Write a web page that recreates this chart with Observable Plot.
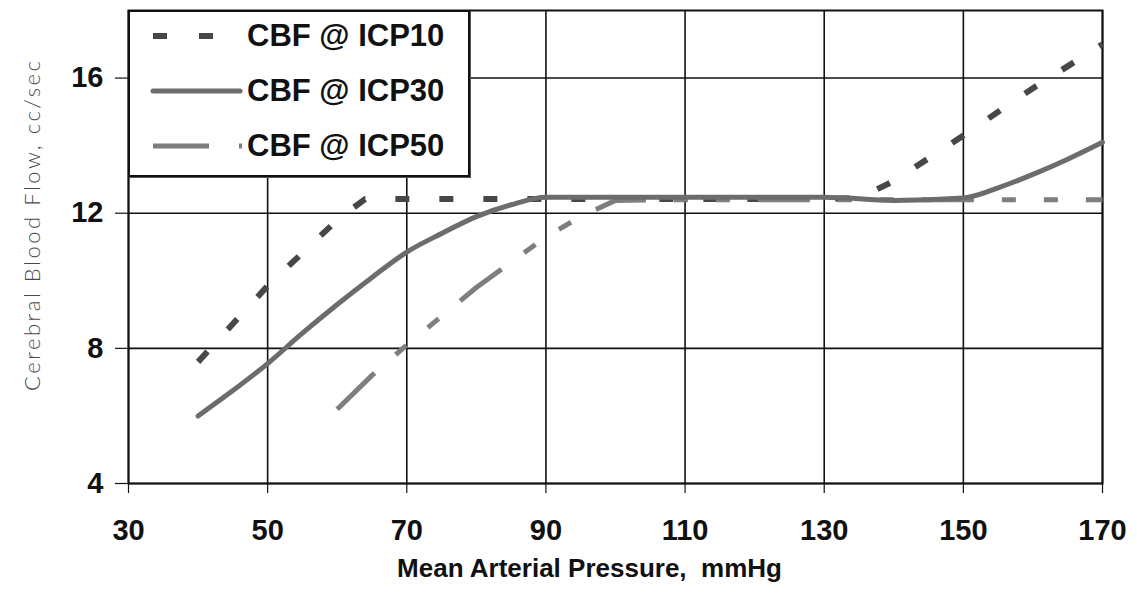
<!DOCTYPE html>
<html>
<head>
<meta charset="utf-8">
<script src="https://cdn.jsdelivr.net/npm/d3@7"></script>
<script src="https://cdn.jsdelivr.net/npm/@observablehq/plot@0.6"></script>
<style>
  html, body { margin: 0; padding: 0; background: #fff; }
  #wrap { position: relative; width: 1137px; height: 603px; }
  #legend {
    position: absolute; left: 128px; top: 10px; width: 338px; height: 163px;
    background: #fff; border: 2px solid #111; box-shadow: 1px 1px 0 #555;
    font-family: "Liberation Sans", Arial, sans-serif; font-weight: bold; font-size: 31px; color: #111;
  }
  .row { position: absolute; left: 0; height: 40px; width: 100%; }
  .row svg { position: absolute; left: 0; top: 0; }
  .row span { position: absolute; left: 117px; top: 2px; line-height: 36px; }
</style>
</head>
<body>
<div id="wrap">
  <div id="chart"></div>
  <div id="legend"></div>
</div>
<script>
// ---- data ----
const seriesNames = ["CBF @ ICP10", "CBF @ ICP30", "CBF @ ICP50"];
const icp10X = [40, 50, 60, 64, 90, 110, 130, 135, 140, 150, 160, 170];
const icp10Y = [7.6, 9.85, 11.8, 12.42, 12.42, 12.42, 12.42, 12.45, 12.95, 14.3, 15.7, 17.0];
const icp30X = [40, 45, 50, 55, 60, 65, 70, 75, 80, 85, 90, 110, 130, 140, 150, 155, 160, 165, 170];
const icp30Y = [6.0, 6.75, 7.55, 8.45, 9.3, 10.1, 10.85, 11.4, 11.9, 12.25, 12.47, 12.47, 12.47, 12.38, 12.45, 12.75, 13.15, 13.6, 14.1];
const icp50X = [60, 65, 70, 75, 80, 85, 90, 95, 100, 110, 130, 150, 170];
const icp50Y = [6.2, 7.2, 8.1, 8.95, 9.8, 10.55, 11.3, 11.9, 12.38, 12.4, 12.4, 12.4, 12.4];
const xTicks = [30, 50, 70, 90, 110, 130, 150, 170];
const yTicks = [4, 8, 12, 16];
const xTitle = "Mean Arterial Pressure,  mmHg";
const yTitle = "Cerebral Blood Flow, cc/sec";

const toRows = (xs, ys) => xs.map((x, i) => ({x, y: ys[i]}));
const d10 = toRows(icp10X, icp10Y);
const d30 = toRows(icp30X, icp30Y);
const d50 = toRows(icp50X, icp50Y);

const styles = [
  {stroke: "#474747", strokeWidth: 6, strokeDasharray: "14,30", strokeLinecap: "butt"},
  {stroke: "#6c6c6c", strokeWidth: 5, strokeLinecap: "round"},
  {stroke: "#7e7e7e", strokeWidth: 5, strokeDasharray: "52,28,14,28,14,28", strokeLinecap: "butt"}
];

const chart = Plot.plot({
  width: 1137,
  height: 603,
  marginTop: 10,
  marginLeft: 128,
  marginRight: 35,
  marginBottom: 120,
  style: {fontFamily: "'Liberation Sans', Arial, sans-serif", background: "#fff", color: "#111"},
  x: {domain: [30, 170], ticks: xTicks, label: null},
  y: {domain: [4, 18], ticks: yTicks, label: null},
  marks: [
    Plot.gridX(xTicks, {stroke: "#111", strokeOpacity: 1, strokeWidth: 1.6}),
    Plot.gridY(yTicks, {stroke: "#111", strokeOpacity: 1, strokeWidth: 1.6}),
    Plot.frame({stroke: "#111", strokeWidth: 2}),
    Plot.axisX({ticks: xTicks, tickSize: 10, tickPadding: 26, fontSize: 29, fontWeight: "bold", stroke: "#111", strokeWidth: 1.2, label: null}),
    Plot.axisY({ticks: yTicks, tickSize: 13, tickPadding: 12, fontSize: 29, fontWeight: "bold", stroke: "#111", strokeWidth: 1.2, label: null}),
    Plot.line(d10, {x: "x", y: "y", ...styles[0]}),
    Plot.line(d50, {x: "x", y: "y", ...styles[2]}),
    Plot.line(d30, {x: "x", y: "y", curve: "monotone-x", ...styles[1]}),
    Plot.text([xTitle], {frameAnchor: "bottom", dy: 85, dx: -26, text: d => d, fontSize: 26, fontWeight: "bold", fill: "#111", lineAnchor: "middle", textAnchor: "middle"}),
    Plot.text([yTitle], {frameAnchor: "left", dx: -96, dy: -21, rotate: -90, text: d => d, fontSize: 22, fontWeight: 300, fontFamily: "Lato, 'Open Sans', sans-serif", fill: "#4a4a4a", lineAnchor: "middle", textAnchor: "middle"})
  ]
});
chart.querySelectorAll("text").forEach(t => {
  t.style.whiteSpace = "pre";
  if (t.textContent === yTitle) { t.setAttribute("textLength", "330"); t.setAttribute("lengthAdjust", "spacing"); }
});
document.getElementById("chart").appendChild(chart);

// ---- legend ----
const legend = document.getElementById("legend");
const rowTops = [4, 59, 114];
seriesNames.forEach((name, i) => {
  const row = document.createElement("div");
  row.className = "row";
  row.style.top = rowTops[i] + "px";
  const s = styles[i];
  const svgNS = "http://www.w3.org/2000/svg";
  const svg = document.createElementNS(svgNS, "svg");
  svg.setAttribute("width", "116"); svg.setAttribute("height", "40");
  const ln = document.createElementNS(svgNS, "line");
  ln.setAttribute("x1", "23"); ln.setAttribute("x2", i === 1 ? "110" : (i === 0 ? "85" : "112"));
  ln.setAttribute("y1", "20"); ln.setAttribute("y2", "20");
  ln.setAttribute("stroke", s.stroke); ln.setAttribute("stroke-width", s.strokeWidth);
  if (i === 0) ln.setAttribute("stroke-dasharray", "14,32");
  if (i === 2) ln.setAttribute("stroke-dasharray", "56,30,4,40");
  ln.setAttribute("stroke-linecap", s.strokeLinecap);
  svg.appendChild(ln);
  row.appendChild(svg);
  const sp = document.createElement("span");
  sp.textContent = name;
  row.appendChild(sp);
  legend.appendChild(row);
});
</script>
</body>
</html>
